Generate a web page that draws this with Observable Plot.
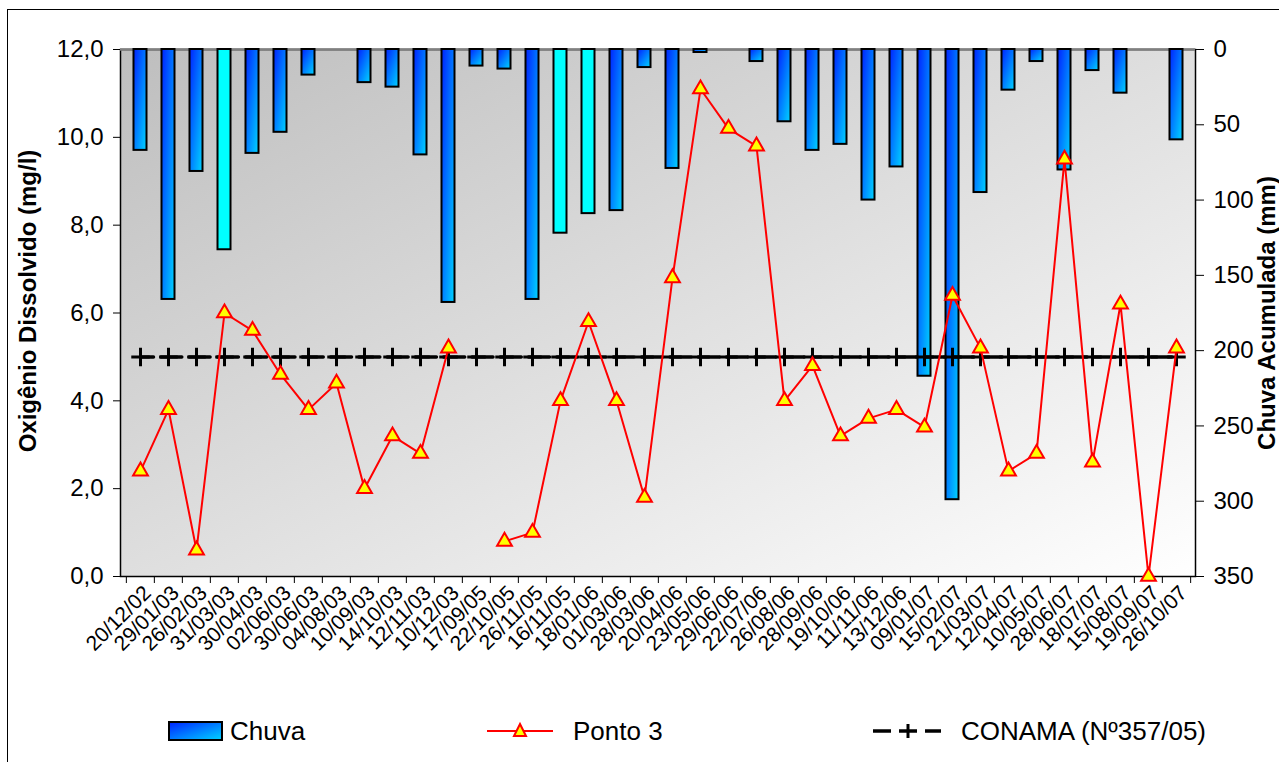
<!DOCTYPE html>
<html><head><meta charset="utf-8">
<script src="https://cdn.jsdelivr.net/npm/d3@7"></script>
<script src="https://cdn.jsdelivr.net/npm/@observablehq/plot@0.6"></script>
<style>
body{margin:0;background:#fff;font-family:"Liberation Sans",Arial,sans-serif;}
#wrap{position:relative;width:1279px;height:762px;overflow:hidden;}
#frame{position:absolute;left:7px;top:9px;width:1300px;height:800px;border:1.5px solid #000;box-sizing:border-box;pointer-events:none;}
#legend{position:relative;width:1279px;height:57px;}
.item{position:absolute;top:0;height:52px;display:flex;align-items:center;font-size:26px;color:#000;white-space:nowrap;}
</style></head><body>
<div id="wrap"><div id="chart"></div><div id="legend"></div><div id="frame"></div></div>
<script>
// ---- data ----
const datas = ["20/12/02","29/01/03","26/02/03","31/03/03","30/04/03","02/06/03","30/06/03","04/08/03","10/09/03","14/10/03","12/11/03","10/12/03","17/09/05","22/10/05","26/11/05","16/11/05","18/01/06","01/03/06","28/03/06","20/04/06","23/05/06","29/06/06","22/07/06","26/08/06","28/09/06","19/10/06","11/11/06","13/12/06","09/01/07","15/02/07","21/03/07","12/04/07","10/05/07","28/06/07","18/07/07","15/08/07","19/09/07","26/10/07"];
const chuva = [67,166,81,133,69,55,17,0,22,25,70,168,11,13,166,122,109,107,12,79,2,0,8,48,67,63,100,78,217,299,95,27,8,80,14,29,0,60];
const ponto3 = [2.4,3.8,0.6,6.0,5.6,4.6,3.8,4.4,2.0,3.2,2.8,5.2,null,0.8,1.0,4.0,5.8,4.0,1.8,6.8,11.1,10.2,9.8,4.0,4.8,3.2,3.6,3.8,3.4,6.4,5.2,2.4,2.8,9.5,2.6,6.2,0.0,5.2];
const conama = 5.0;
const oxTicks = [0,2,4,6,8,10,12];
const chuvaTicks = [0,50,100,150,200,250,300,350];
const oxMax = 12, chuvaMax = 350;
const chuvaCiano = ["31/03/03","16/11/05","18/01/06"];

// ---- layout ----
const W = 1279, H = 705, mL = 120, mR = 84, mT = 49, mB = 129;
const step = (W - mL - mR) / datas.length;
const toY = mm => oxMax - mm * oxMax / chuvaMax;
const rows = datas.map((d, i) => ({data: d, chuva: chuva[i], od: ponto3[i]}));
const barsGrad = rows.filter(r => r.chuva > 0 && !chuvaCiano.includes(r.data));
const barsCyan = rows.filter(r => r.chuva > 0 && chuvaCiano.includes(r.data));
const fmt = v => v.toFixed(1).replace(".", ",");
const font = "'Liberation Sans', Arial, sans-serif";

const chart = Plot.plot({
  width: W, height: H,
  marginLeft: mL, marginRight: mR, marginTop: mT, marginBottom: mB,
  style: {fontFamily: font, fontSize: "22px", color: "#000", background: "transparent"},
  x: {type: "band", domain: datas, padding: 0},
  y: {domain: [0, oxMax]},
  marks: [
    Plot.frame({fill: "url(#bgGrad)", stroke: "#000", strokeWidth: 1.5}),
    Plot.ruleY([oxMax], {stroke: "#808080", strokeWidth: 2.5}),
    Plot.barY(barsGrad, {x: "data", y1: () => oxMax, y2: r => toY(r.chuva), fill: "url(#barGrad)", stroke: "#000", strokeWidth: 2, insetLeft: 7.5, insetRight: 7.5}),
    Plot.barY(barsCyan, {x: "data", y1: () => oxMax, y2: r => toY(r.chuva), fill: "#00ffff", stroke: "#000", strokeWidth: 2, insetLeft: 7.5, insetRight: 7.5}),
    Plot.line(rows, {x: "data", y: () => conama, stroke: "#000", strokeWidth: 3.5, strokeDasharray: `21 ${(step - 21).toFixed(2)}`, strokeDashoffset: 8}),
    Plot.dot(rows, {x: "data", y: () => conama, symbol: "plus", r: 6, stroke: "#000", strokeWidth: 3}),
    Plot.line(rows, {x: "data", y: "od", stroke: "#ff0000", strokeWidth: 2}),
    Plot.dot(rows.filter(r => r.od != null), {x: "data", y: "od", symbol: "triangle", r: 5.5, fill: "#ffff00", stroke: "#ff0000", strokeWidth: 2}),
    Plot.axisY(oxTicks, {anchor: "left", tickSize: 7, tickPadding: 10, fontSize: 24, tickFormat: fmt, label: null}),
    Plot.axisY(chuvaTicks.map(toY), {anchor: "right", tickSize: 8, tickPadding: 10, fontSize: 24, tickFormat: v => String(Math.round((oxMax - v) * chuvaMax / oxMax)), label: null}),
    Plot.axisX({anchor: "bottom", tickSize: 0, tickPadding: 13, tickRotate: -45, fontSize: 21, dx: 7, label: null}),
    Plot.axisX({anchor: "bottom", tickSize: 7, tickFormat: () => "", dx: -step / 2, label: null}),
    Plot.axisX([datas[datas.length - 1]], {anchor: "bottom", tickSize: 7, tickFormat: () => "", dx: step / 2, label: null}),
    Plot.text(["Oxigênio Dissolvido (mg/l)"], {text: d => d, frameAnchor: "left", rotate: -90, dx: -92, dy: -12, fontSize: 24, fontWeight: "bold", textAnchor: "middle"}),
    Plot.text(["Chuva Acumulada (mm)"], {text: d => d, frameAnchor: "right", rotate: -90, dx: 72, fontSize: 24, fontWeight: "bold", textAnchor: "middle"})
  ]
});

const defs = d3.select(chart).insert("defs", ":first-child");
const g1 = defs.append("linearGradient").attr("id", "barGrad").attr("x1", 0).attr("y1", 0).attr("x2", 1).attr("y2", 1);
g1.append("stop").attr("offset", "0%").attr("stop-color", "#0022ff");
g1.append("stop").attr("offset", "100%").attr("stop-color", "#00d4ff");
const g2 = defs.append("linearGradient").attr("id", "bgGrad").attr("x1", 0).attr("y1", 0).attr("x2", 1).attr("y2", 1);
g2.append("stop").attr("offset", "0%").attr("stop-color", "#bebebe");
g2.append("stop").attr("offset", "100%").attr("stop-color", "#ffffff");
document.getElementById("chart").appendChild(chart);

// ---- legend ----
const legend = document.getElementById("legend");
const items = [
  {left: 168, gap: 6, label: "Chuva", svg: `<svg width="56" height="22"><rect x="1" y="2" width="53" height="18" fill="url(#barGrad)" stroke="#000" stroke-width="2"/></svg>`},
  {left: 487, gap: 18, label: "Ponto 3", svg: `<svg width="68" height="22"><line x1="0" y1="11" x2="66" y2="11" stroke="#ff0000" stroke-width="2"/><path d="M33,4 L39,16 L27,16 Z" fill="#ffff00" stroke="#ff0000" stroke-width="2"/></svg>`},
  {left: 873, gap: 18, label: "CONAMA (Nº357/05)", svg: `<svg width="70" height="22"><line x1="0" y1="11" x2="18" y2="11" stroke="#000" stroke-width="3.5"/><line x1="26" y1="11" x2="44" y2="11" stroke="#000" stroke-width="3.5"/><line x1="35" y1="4" x2="35" y2="18" stroke="#000" stroke-width="3"/><line x1="52" y1="11" x2="68" y2="11" stroke="#000" stroke-width="3.5"/></svg>`}
];
for (const it of items) {
  const div = document.createElement("div");
  div.className = "item";
  div.style.left = it.left + "px";
  div.innerHTML = it.svg + `<span style="margin-left:${it.gap}px">` + it.label + "</span>";
  legend.appendChild(div);
}
</script>
</body></html>
